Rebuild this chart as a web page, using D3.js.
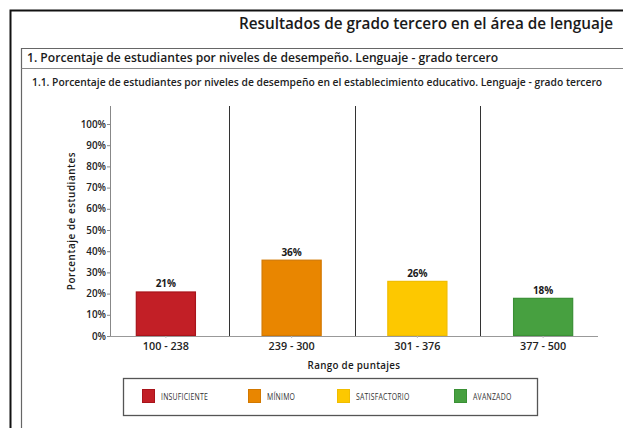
<!DOCTYPE html>
<html><head><meta charset="utf-8">
<script src="https://cdn.jsdelivr.net/npm/d3@7"></script>
<style>
html,body{margin:0;padding:0;background:#fff;}
svg{display:block;font-family:"Open Sans",sans-serif;}
</style></head><body>
<svg id="c" width="623" height="428"></svg>
<script>
const categories = ["100 - 238", "239 - 300", "301 - 376", "377 - 500"];
const values = [21, 36, 26, 18];
const levels = ["INSUFICIENTE", "MÍNIMO", "SATISFACTORIO", "AVANZADO"];
const yTicks = [0, 10, 20, 30, 40, 50, 60, 70, 80, 90, 100];
const pageTitle = "Resultados de grado tercero en el área de lenguaje";
const sectionTitle = "1. Porcentaje de estudiantes por niveles de desempeño. Lenguaje - grado tercero";
const chartTitle = "1.1. Porcentaje de estudiantes por niveles de desempeño en el establecimiento educativo. Lenguaje - grado tercero";
const xTitle = "Rango de puntajes";
const yTitle = "Porcentaje de estudiantes";

const fills = ["#c21f26", "#e98600", "#fdc800", "#47a040"];
const strokes = ["#a8141b", "#d27800", "#f0bd00", "#3a9035"];

const svg = d3.select("#c");

// frames
svg.append("path").attr("d","M10.5,430 V10.5 H630").attr("fill","none").attr("stroke","#111").attr("stroke-width",2);
svg.append("path").attr("d","M21.5,430 V48.5 H630").attr("fill","none").attr("stroke","#666").attr("stroke-width",1.2);
svg.append("line").attr("x1",21.5).attr("x2",630).attr("y1",68.5).attr("y2",68.5).attr("stroke","#888").attr("stroke-width",1);

svg.append("text").attr("x",613).attr("y",29).attr("text-anchor","end")
  .attr("font-size",15.3).attr("font-weight",600).attr("fill","#1a1a1a").text(pageTitle);
svg.append("text").attr("x",27).attr("y",62).attr("font-size",12.1).attr("font-weight",600).attr("fill","#1a1a1a").text(sectionTitle);
svg.append("text").attr("x",32).attr("y",85.5).attr("font-size",10.3).attr("font-weight",600).attr("fill","#222").text(chartTitle);

// scales
const x = d3.scaleBand().domain(categories).range([103, 606]).paddingInner(0).paddingOuter(0);
const y = d3.scaleLinear().domain([0, 100]).range([336, 124]);
const axisX = 110, axisTop = 106, axisRight = 598;

// separators
svg.append("g").selectAll("line").data(categories.slice(1)).join("line")
  .attr("x1", d => Math.round(x(d)) + 0.5).attr("x2", d => Math.round(x(d)) + 0.5)
  .attr("y1", axisTop).attr("y2", y(0))
  .attr("stroke", "#333").attr("stroke-width", 1);

// y axis
const yAxis = d3.axisLeft(y).tickValues(yTicks).tickFormat(d => d + "%").tickSize(3).tickSizeOuter(0);
const gy = svg.append("g").attr("transform", `translate(${axisX},0)`).call(yAxis);
gy.select(".domain").remove();
gy.selectAll(".tick line").attr("stroke", "#888");
gy.selectAll(".tick text").attr("font-size", 9.8).attr("font-weight", 600).attr("fill", "#222")
  .attr("font-family", "'Open Sans',sans-serif").attr("x", -4);
svg.append("line").attr("x1", axisX + 0.5).attr("x2", axisX + 0.5).attr("y1", axisTop).attr("y2", y(0))
  .attr("stroke", "#888").attr("stroke-width", 1);

// bars
const bw = x.bandwidth() * 0.478;
svg.append("g").selectAll("rect").data(values).join("rect")
  .attr("x", (d, i) => x(categories[i]) + x.bandwidth() / 2 - bw / 2 + 0.5)
  .attr("y", d => y(d) + 0.5)
  .attr("width", bw - 1)
  .attr("height", d => y(0) - y(d) - 1)
  .attr("fill", (d, i) => fills[i])
  .attr("stroke", (d, i) => strokes[i]).attr("stroke-width", 1.2);

// value labels
svg.append("g").selectAll("text").data(values).join("text")
  .attr("x", (d, i) => x(categories[i]) + x.bandwidth() / 2)
  .attr("y", d => y(d) - 4)
  .attr("text-anchor", "middle").attr("font-size", 10).attr("font-weight", 700).attr("fill", "#1a1a1a")
  .text(d => d + "%");

// x axis line
svg.append("line").attr("x1", axisX).attr("x2", axisRight).attr("y1", y(0) + 0.5).attr("y2", y(0) + 0.5)
  .attr("stroke", "#999").attr("stroke-width", 1.2);
// x tick labels
const xAxis = d3.axisBottom(x).tickSize(2).tickSizeOuter(0);
const gx = svg.append("g").attr("transform", `translate(0,${y(0)})`).call(xAxis);
gx.select(".domain").remove();
gx.selectAll(".tick line").attr("stroke", "#bbb");
gx.selectAll(".tick text").attr("font-size", 10.8).attr("font-weight", 600).attr("fill", "#222")
  .attr("font-family", "'Open Sans',sans-serif").attr("y", 6);

svg.append("text").attr("x", 354).attr("y", 369).attr("text-anchor", "middle")
  .attr("font-size", 9.8).attr("font-weight", 600).attr("fill", "#1a1a1a").attr("letter-spacing", 0.3).text(xTitle);
svg.append("text").attr("transform", "translate(75,221) rotate(-90)").attr("text-anchor", "middle")
  .attr("font-size", 9.8).attr("font-weight", 600).attr("fill", "#1a1a1a").attr("letter-spacing", 0.6).text(yTitle);

// legend
svg.append("rect").attr("x", 123.5).attr("y", 378.5).attr("width", 414).attr("height", 37)
  .attr("fill", "#fff").attr("stroke", "#555").attr("stroke-width", 1.3);
const legendOffsets = [142, 248, 337, 454];
const lg = svg.append("g").selectAll("g").data(levels).join("g")
  .attr("transform", (d, i) => `translate(${legendOffsets[i]},389)`);
lg.append("rect").attr("x", 0.5).attr("y", 0.5).attr("width", 12).attr("height", 13)
  .attr("fill", (d, i) => fills[i]).attr("stroke", (d, i) => strokes[i]);
lg.append("text").attr("transform", "translate(19,11) scale(0.72,1)").attr("font-size", 9.6)
  .attr("font-family", "'Open Sans',sans-serif").attr("fill", "#333")
  .attr("letter-spacing", 0.3).text(d => d);
</script>
</body></html>
